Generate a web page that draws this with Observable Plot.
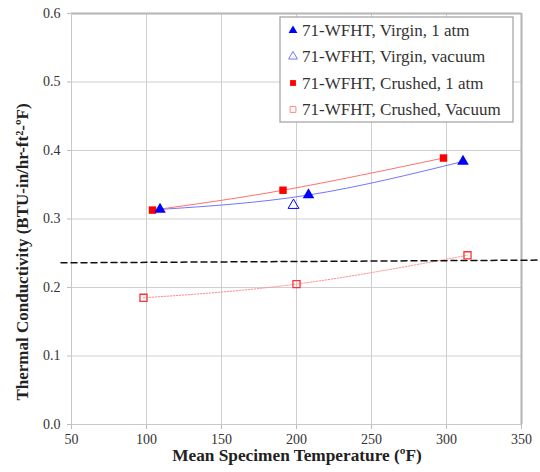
<!DOCTYPE html>
<html>
<head>
<meta charset="utf-8">
<script src="https://cdn.jsdelivr.net/npm/d3@7"></script>
<script src="https://cdn.jsdelivr.net/npm/@observablehq/plot@0.6"></script>
<style>
  body { margin: 0; background: #fff; }
  #chart { width: 540px; height: 472px; }
  #chart svg text { font-family: 'Liberation Serif', 'Times New Roman', serif !important; }
</style>
</head>
<body>
<div id="chart"></div>
<script>
// Series data (Mean specimen temperature °F, thermal conductivity BTU-in/hr-ft²-°F)
const virgin1atmT = [109, 208, 311];
const virgin1atmK = [0.314, 0.335, 0.384];
const virginVacT = [198];
const virginVacK = [0.320];
const crushed1atmT = [104, 191, 298];
const crushed1atmK = [0.313, 0.342, 0.389];
const crushedVacT = [98, 200, 314];
const crushedVacK = [0.185, 0.205, 0.247];
// Dashed reference line endpoints
const refT = [43, 363];
const refK = [0.236, 0.240];

const xTicks = [50, 100, 150, 200, 250, 300, 350];
const yTicks = [0, 0.1, 0.2, 0.3, 0.4, 0.5, 0.6];

const legendLabels = [
  "71-WFHT, Virgin, 1 atm",
  "71-WFHT, Virgin, vacuum",
  "71-WFHT, Crushed, 1 atm",
  "71-WFHT, Crushed, Vacuum"
];
const xTitle = "Mean Specimen Temperature (ºF)";
const yTitle = "Thermal Conductivity (BTU-in/hr-ft²-ºF)";

const zip = (xs, ys) => xs.map((x, i) => ({x, y: ys[i]}));
const v1 = zip(virgin1atmT, virgin1atmK);
const vv = zip(virginVacT, virginVacK);
const c1 = zip(crushed1atmT, crushed1atmK);
const cv = zip(crushedVacT, crushedVacK);
const ref = zip(refT, refK);

const font = "'Liberation Serif', 'Times New Roman', serif";

const chart = Plot.plot({
  width: 540,
  height: 472,
  marginLeft: 71,
  marginRight: 19,
  marginTop: 13,
  marginBottom: 48,
  style: {fontFamily: font, fontSize: "14px", color: "#333", background: "#fff"},
  x: {domain: [50, 350], label: null},
  y: {domain: [0, 0.6], label: null},
  marks: [
    Plot.gridX(xTicks, {stroke: "#cfcfcf", strokeOpacity: 1}),
    Plot.gridY(yTicks, {stroke: "#cfcfcf", strokeOpacity: 1}),
    Plot.axisX({ticks: xTicks, stroke: "#bbb", tickFormat: d => d, label: null, tickSize: 5, tickPadding: 5, fill: "#333", fontSize: 14, fontFamily: font}),
    Plot.axisY({ticks: yTicks, stroke: "#bbb", tickFormat: d3.format(".1f"), label: null, tickSize: 4, tickPadding: 7, fill: "#333", fontSize: 14, fontFamily: font}),
    Plot.ruleX([350], {stroke: "#b4b4b4", strokeWidth: 2}),
    Plot.ruleY([0.6], {stroke: "#b4b4b4", strokeWidth: 2}),
    Plot.ruleY([0], {stroke: "#c8c8c8"}),
    Plot.ruleX([50], {stroke: "#c8c8c8"}),
    // Trend lines
    Plot.line(v1, {x: "x", y: "y", stroke: "#7474ff", strokeWidth: 1, curve: "natural"}),
    Plot.line(c1, {x: "x", y: "y", stroke: "#ff7070", strokeWidth: 1, curve: "natural"}),
    Plot.line(cv, {x: "x", y: "y", stroke: "#ff8c8c", strokeWidth: 1, strokeDasharray: "1.5,1.5", curve: "natural"}),
    // Dashed reference line
    Plot.line(ref, {x: "x", y: "y", stroke: "#111", strokeWidth: 1.5, strokeDasharray: "6,4", clip: false}),
    // Markers
    Plot.dot(c1, {x: "x", y: "y", symbol: "square", fill: "#ff0000", r: 4.2}),
    Plot.dot(v1, {x: "x", y: "y", symbol: "triangle", fill: "#0000ff", r: 4.3}),
    Plot.dot(vv, {x: "x", y: "y", symbol: "triangle", fill: "none", stroke: "#0000ff", strokeWidth: 1, r: 4}),
    Plot.dot(cv, {x: "x", y: "y", symbol: "square", fill: "none", stroke: "#ff3333", strokeWidth: 1.3, r: 4})
  ]
});

const svg = d3.select(chart);
// Axis titles
svg.append("text")
  .attr("x", 297).attr("y", 461)
  .attr("text-anchor", "middle")
  .attr("font-family", font).attr("font-weight", "bold").attr("font-size", 17.3)
  .attr("fill", "#222").text(xTitle);
svg.append("text")
  .attr("transform", "translate(28,252) rotate(-90)")
  .attr("text-anchor", "middle")
  .attr("font-family", font).attr("font-weight", "bold").attr("font-size", 17)
  .attr("fill", "#222").text(yTitle);

// Legend box
const lg = svg.append("g").attr("transform", "translate(280,17)").attr("font-family", font).attr("text-anchor", "start");
lg.append("rect").attr("width", 233).attr("height", 105).attr("fill", "#fff").attr("stroke", "#a0a0a0").attr("stroke-width", 1.2);
const rowsY = [13.5, 39.5, 66, 92.5];
const mk = [
  {sym: d3.symbolTriangle, fill: "#0000ff", stroke: "none"},
  {sym: d3.symbolTriangle, fill: "none", stroke: "#7777ff"},
  {sym: d3.symbolSquare, fill: "#ff0000", stroke: "none"},
  {sym: d3.symbolSquare, fill: "none", stroke: "#ff8888"}
];
legendLabels.forEach((lab, i) => {
  const g = lg.append("g").attr("transform", `translate(13,${rowsY[i]})`);
  g.append("path").attr("d", d3.symbol(mk[i].sym, 34)()).attr("fill", mk[i].fill).attr("stroke", mk[i].stroke);
  g.append("text").attr("x", 9).attr("y", 0).attr("dy", "0.35em").attr("font-size", 17).attr("fill", "#333").text(lab);
});

document.getElementById("chart").appendChild(chart);
</script>
</body>
</html>
